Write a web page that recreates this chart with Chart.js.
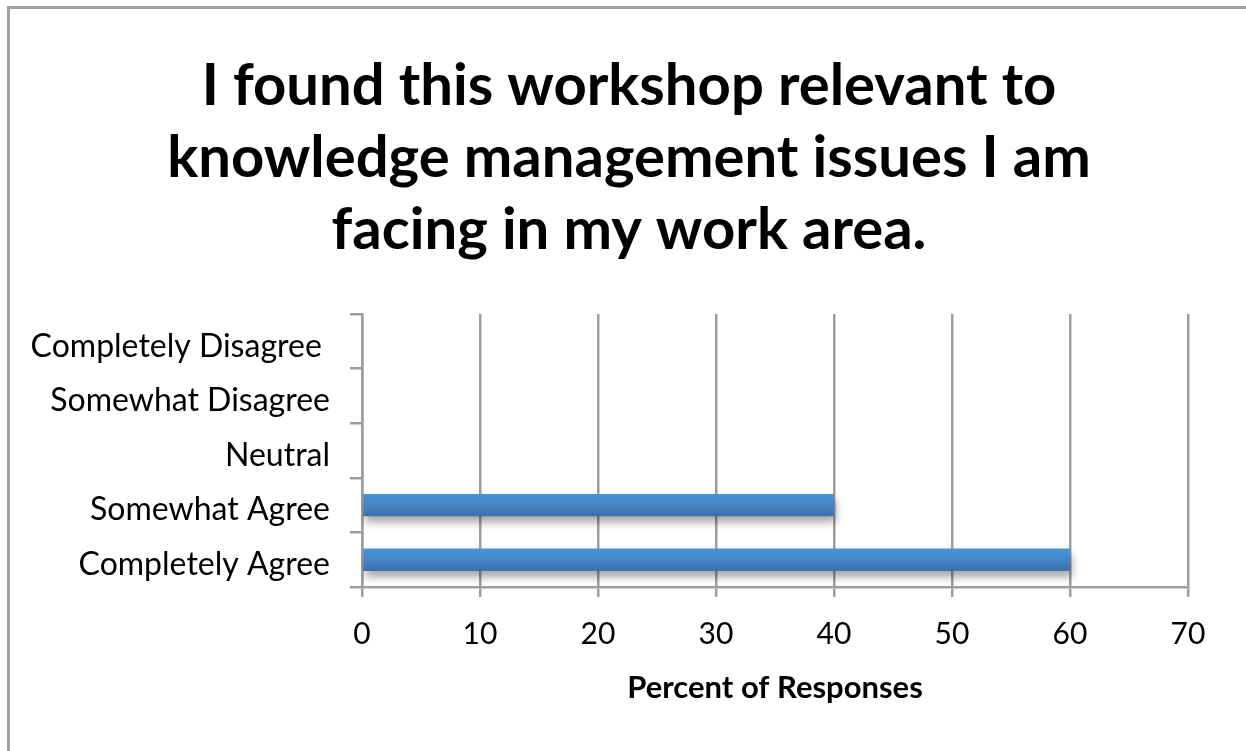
<!DOCTYPE html>
<html>
<head>
<meta charset="utf-8">
<script src="https://cdn.jsdelivr.net/npm/chart.js@4"></script>
<style>
  html, body { margin: 0; padding: 0; background: #fff; overflow: hidden; }
  #frame {
    position: absolute; left: 7px; top: 6px;
    width: 1300px; height: 800px;
    border: 3px solid #a0a0a0;
  }
  #wrap { position: absolute; left: 0; top: 0; width: 1246px; height: 751px; }
</style>
</head>
<body>
<div id="frame"></div>
<div id="wrap"><canvas id="chart"></canvas></div>
<script>
// data
const categories = ['Completely Disagree ', 'Somewhat Disagree', 'Neutral', 'Somewhat Agree', 'Completely Agree'];
const percentValues = [0, 0, 0, 40, 60];
const titleLines = ['I found this workshop relevant to', 'knowledge management issues I am', 'facing in my work area.'];
const axisTitle = 'Percent of Responses';
const xMin = 0, xMax = 70, xStep = 10;

const gridColor = '#9d9d9d';

// bar fill: light blue at the top fading to darker at the bottom
function barFill(context) {
  const chart = context.chart;
  const yScale = chart.scales.y;
  if (!chart.chartArea || !yScale) return '#4285c8';
  const cy = yScale.getPixelForValue(context.dataIndex);
  const half = 11;
  if (!Number.isFinite(cy)) return '#4285c8';
  const g = chart.ctx.createLinearGradient(0, cy - half, 0, cy + half);
  g.addColorStop(0, '#4a92d6');
  g.addColorStop(0.5, '#4485c6');
  g.addColorStop(1, '#3a72aa');
  return g;
}

// soft shadow under bars
const barShadow = {
  id: 'barShadow',
  beforeDatasetsDraw(chart) {
    const c = chart.ctx;
    c.save();
    c.shadowColor = 'rgba(0,0,0,0.35)';
    c.shadowBlur = 9;
    c.shadowOffsetX = 2;
    c.shadowOffsetY = 6;
  },
  afterDatasetsDraw(chart) {
    chart.ctx.restore();
  }
};

new Chart(document.getElementById('chart'), {
  type: 'bar',
  data: {
    labels: categories,
    datasets: [{
      data: percentValues,
      backgroundColor: barFill,
      borderWidth: 0,
      barPercentage: 0.41,
      categoryPercentage: 1
    }]
  },
  plugins: [barShadow],
  options: {
    indexAxis: 'y',
    responsive: true,
    maintainAspectRatio: false,
    animation: false,
    layout: { padding: { left: 12, right: 0, top: 0, bottom: 0 } },
    plugins: {
      legend: { display: false },
      tooltip: { enabled: false },
      title: {
        display: true,
        text: titleLines,
        color: '#000',
        font: { family: 'Lato', size: 58, weight: 'bold', lineHeight: 72 / 58 },
        padding: { top: 50, bottom: 48 }
      }
    },
    scales: {
      x: {
        min: xMin,
        max: xMax,
        afterFit(scale) { scale.height = 164; },
        ticks: {
          stepSize: xStep,
          color: '#000',
          padding: 19,
          font: { family: 'Lato', size: 30 }
        },
        grid: { color: gridColor, lineWidth: 2.5, tickLength: 10 },
        border: { color: gridColor, width: 2.5 },
        title: {
          display: true,
          text: axisTitle,
          color: '#000',
          font: { family: 'Lato', size: 31, weight: 'bold' },
          padding: 44
        }
      },
      y: {
        afterFit(scale) { scale.width = 350; },
        ticks: {
          color: '#000',
          padding: 20,
          labelOffset: 5,
          font: { family: 'Lato', size: 32 }
        },
        grid: { color: gridColor, lineWidth: 2.5, tickLength: 12, drawOnChartArea: false },
        border: { color: gridColor, width: 2.5 }
      },
      // empty spacer on the right so the plot ends where the reference does
      yRight: {
        type: 'category',
        position: 'right',
        afterFit(scale) { scale.width = 58; },
        ticks: { display: false },
        grid: { display: false },
        border: { display: false }
      }
    }
  }
});
</script>
</body>
</html>
